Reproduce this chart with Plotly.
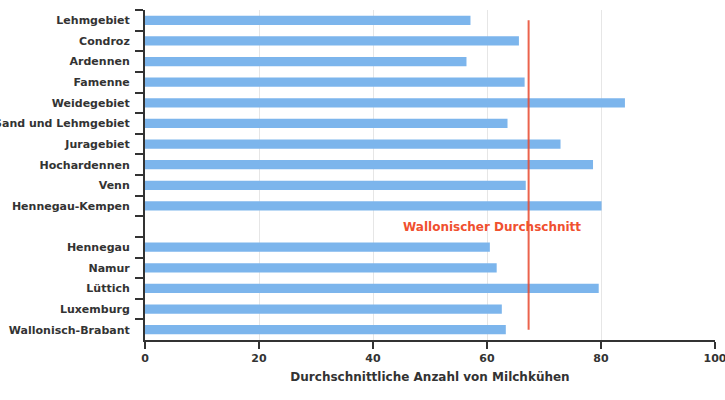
import plotly.graph_objects as go

categories = ["Lehmgebiet", "Condroz", "Ardennen", "Famenne", "Weidegebiet",
              "Sand und Lehmgebiet", "Juragebiet", "Hochardennen", "Venn",
              "Hennegau-Kempen", " ", "Hennegau", "Namur", "Lüttich",
              "Luxemburg", "Wallonisch-Brabant"]
values = [57.1, 65.6, 56.4, 66.6, 84.2, 63.6, 72.9, 78.6, 66.8, 80.1,
          None, 60.5, 61.7, 79.6, 62.6, 63.3]
average = 67.3
avg_label = "Wallonischer Durchschnitt"
x_title = "Durchschnittliche Anzahl von Milchkühen"
x_ticks = [0, 20, 40, 60, 80, 100]

bar_cats = [c for c, v in zip(categories, values) if v is not None]
bar_vals = [v for v in values if v is not None]

fig = go.Figure()
fig.add_trace(go.Bar(
    x=bar_vals, y=bar_cats, orientation="h",
    marker=dict(color="#7cb5ec", line=dict(width=0)),
    width=0.45, hoverinfo="x+y", showlegend=False,
))
fig.add_trace(go.Scatter(
    x=[average, average], y=[categories[0], categories[-1]],
    mode="lines", line=dict(color="rgba(232,72,46,0.85)", width=2),
    showlegend=False, hoverinfo="skip",
))
fig.add_annotation(
    x=60.9, y=" ", text=avg_label, showarrow=False,
    font=dict(family="DejaVu Sans", size=12, color="#f0502f", weight="bold"),
    xanchor="center", yanchor="middle",
)

font_family = "DejaVu Sans"
fig.update_layout(
    width=725, height=400,
    margin=dict(l=145, r=10, t=10, b=60),
    plot_bgcolor="white", paper_bgcolor="white",
    font=dict(family=font_family, size=11, color="#333333"),
    xaxis=dict(
        range=[0, 100.0001], tickvals=x_ticks,
        showgrid=True, gridcolor="#e6e6e6", gridwidth=1,
        showline=True, linecolor="#333333", linewidth=2,
        ticks="outside", ticklen=7, tickwidth=2, tickcolor="#333333",
        ticklabeloverflow="allow",
        tickfont=dict(family=font_family, size=11, color="#333333", weight="bold"),
        title=dict(text=x_title, standoff=8,
                   font=dict(family=font_family, size=12, color="#333333", weight="bold")),
        zeroline=False, fixedrange=True, automargin=False,
    ),
    yaxis=dict(
        type="category", categoryorder="array", categoryarray=categories,
        range=[len(categories) - 0.5, -0.5],
        showgrid=False, showline=True, linecolor="#333333", linewidth=2,
        ticks="outside", ticklen=8, tickwidth=2, tickcolor="#333333",
        tickson="boundaries", ticklabelstandoff=11,
        tickfont=dict(family=font_family, size=11, color="#333333", weight="bold"),
        automargin=False, fixedrange=True,
    ),
)

fig.write_html("out.html")
